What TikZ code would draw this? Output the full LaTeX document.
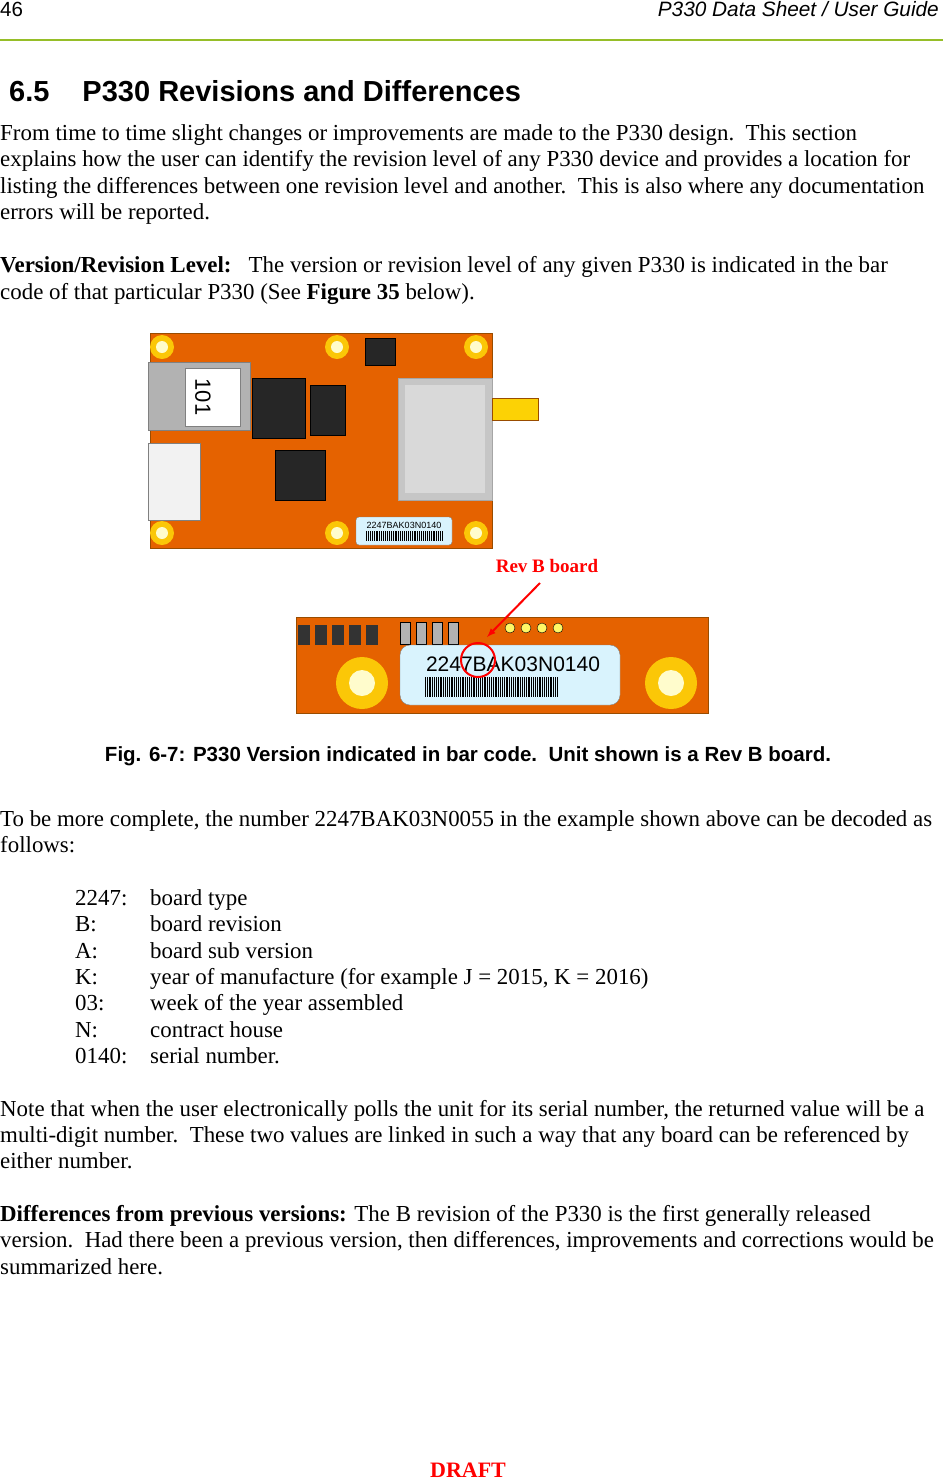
\documentclass[tikz,border=0pt]{standalone}
\usepackage{fontspec}
\setmainfont{Liberation Serif}
\setsansfont{Liberation Sans}
\begin{document}
\begin{tikzpicture}[x=1pt,y=-1pt,
 body/.style={anchor=base west,inner sep=0,font=\fontsize{22.9}{26}\selectfont},
 pcb/.style={fill=orange!85!red!90!black,draw=orange!60!black},
 hole/.style={fill=yellow!60!orange,draw=none},
 chip/.style={fill=black!85,draw=black}]
\useasboundingbox[fill=white] (0,0) rectangle (943,1481);
\definecolor{hdr}{RGB}{150,190,40}
\node[anchor=base west,inner sep=0,font=\sffamily\fontsize{20.5}{22}\selectfont] (pn) at (0,16) {46};
\node[anchor=base east,inner sep=0,font=\sffamily\itshape\fontsize{20.8}{22}\selectfont] (hd) at (939,16) {P330 Data Sheet / User Guide};
\draw[hdr,line width=1.2] (0,40) -- (943,40);
\node[anchor=base west,inner sep=0,font=\sffamily\bfseries\fontsize{29}{30}\selectfont] (tt) at (9,101) {6.5\hspace{33pt}P330 Revisions and Differences};
\node[body] (l1) at (0,140) {From time to time slight changes or improvements are made to the P330 design.\ \ This section};
\node[body] (l2) at (0,166) {explains how the user can identify the revision level of any P330 device and provides a location for};
\node[body] (l3) at (0,193) {listing the differences between one revision level and another.\ \ This is also where any documentation};
\node[body] (l4) at (0,219) {errors will be reported.};
\node[body] (l5) at (0,272) {\textbf{Version/Revision Level:}\ \ \ The version or revision level of any given P330 is indicated in the bar};
\node[body] (l6) at (0,299) {code of that particular P330 (See \textbf{Figure 35} below).};
% board 1
\fill[pcb] (150,333) rectangle (492,548);
\foreach \p in {(162,347),(337,347),(476,347),(162,533),(337,533),(476,533)} \fill[hole] \p circle (12);
\foreach \p in {(162,347),(337,347),(476,347),(162,533),(337,533),(476,533)} \fill[white!80!yellow] \p circle (6);
\fill[gray!60,draw=gray] (148,362) rectangle (250,430);
\fill[white,draw=gray] (185,368) rectangle (240,426);
\node[rotate=-90,font=\sffamily\fontsize{22}{22}\selectfont] (n101) at (203,397) {101};
\fill[white!90!gray,draw=gray] (148,443) rectangle (200,520);
\fill[chip] (252,378) rectangle (305,438);
\fill[chip] (310,385) rectangle (345,435);
\fill[chip] (275,450) rectangle (325,500);
\fill[chip] (365,338) rectangle (395,365);
\fill[gray!45,draw=gray!70] (398,378) rectangle (492,500);
\fill[gray!30] (405,385) rectangle (485,493);
\fill[yellow!70!orange,draw=orange!60!black] (492,398) rectangle (538,420);
\fill[cyan!15,draw=gray,rounded corners=3] (356,517) rectangle (452,545);
\node[font=\sffamily\fontsize{9}{9}\selectfont,inner sep=0] (lb1) at (404,525) {2247BAK03N0140};
\foreach \i in {0,...,40} \fill[black] (366+\i*1.9,531) rectangle ++(1,10);
% label
\node[font=\bfseries\fontsize{19}{22}\selectfont,text=red,inner sep=0] (rev) at (547,566) {Rev B board};
% board 2
\fill[pcb] (296,617) rectangle (708,713);
\fill[hole] (362,683) circle (26); \fill[white!80!yellow] (362,683) circle (13);
\fill[hole] (671,683) circle (26); \fill[white!80!yellow] (671,683) circle (13);
\foreach \i in {0,...,4} \fill[black!80] (298+\i*17,625) rectangle ++(12,20);
\foreach \i in {0,...,3} \fill[gray!60,draw=black] (400+\i*16,622) rectangle ++(10,22);
\foreach \i in {0,...,3} \draw[black,fill=yellow!60] (510+\i*16,628) circle (5);
\fill[cyan!15,draw=gray,rounded corners=10] (400,645) rectangle (620,705);
\node[font=\sffamily\fontsize{21}{21}\selectfont,inner sep=0] (lb2) at (513,664) {2247BAK03N0140};
\foreach \i in {0,...,60} \fill[black] (425+\i*2.2,677) rectangle ++(1.2,20);
\node[draw=red,circle,line width=2,minimum size=34,inner sep=0] (rc) at (478,660) {};
\coordinate (as) at (540,583);
\draw[red,line width=2,-latex] (as) -- (487,637);
\node[anchor=base,inner sep=0,font=\sffamily\bfseries\fontsize{20.5}{22}\selectfont] (cap) at (468,761) {Fig. 6-7: P330 Version indicated in bar code.\ \ Unit shown is a Rev B board.};
\node[body] (l7) at (0,826) {To be more complete, the number 2247BAK03N0055 in the example shown above can be decoded as};
\node[body] (l8) at (0,852) {follows:};
\foreach \a/\b/\y in {2247:/board type/905,B:/board revision/931,A:/board sub version/958,K:/{year of manufacture (for example J = 2015, K = 2016)}/984,03:/week of the year assembled/1010,N:/contract house/1037,0140:/serial number./1063}{
 \node[body] at (75,\y) {\a}; \node[body] at (150,\y) {\b};}
\node[body] (l9) at (0,1116) {Note that when the user electronically polls the unit for its serial number, the returned value will be a};
\node[body] (l10) at (0,1142) {multi-digit number.\ \ These two values are linked in such a way that any board can be referenced by};
\node[body] (l11) at (0,1168) {either number.};
\node[body] (l12) at (0,1221) {\textbf{Differences from previous versions:} The B revision of the P330 is the first generally released};
\node[body] (l13) at (0,1247) {version.\ \ Had there been a previous version, then differences, improvements and corrections would be};
\node[body] (l14) at (0,1274) {summarized here.};
\node[anchor=base,inner sep=0,text=red,font=\bfseries\fontsize{22}{24}\selectfont] (dr) at (468,1477) {DRAFT};
\end{tikzpicture}
\end{document}
